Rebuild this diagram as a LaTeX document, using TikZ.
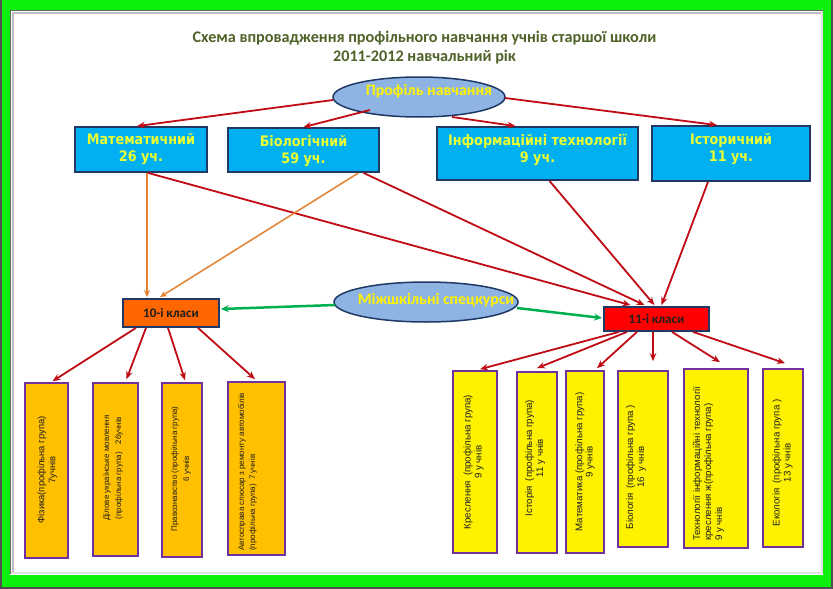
\documentclass[tikz,border=0pt]{standalone}
\usepackage{fontspec}
\setmainfont{Carlito}
\newfontfamily\tah{DejaVu Sans}[FakeStretch=0.88]
\newfontfamily\ari{Liberation Sans}
\usetikzlibrary{arrows.meta,calc,shapes.geometric}
\definecolor{frgreen}{RGB}{12,240,12}
\definecolor{frgray}{RGB}{80,80,80}
\definecolor{titleol}{RGB}{79,98,40}
\definecolor{navy}{RGB}{31,56,100}
\definecolor{cyanbox}{RGB}{0,176,240}
\definecolor{ellblue}{RGB}{142,180,227}
\definecolor{ytext}{RGB}{235,255,50}
\definecolor{darkred}{RGB}{192,10,20}
\definecolor{orline}{RGB}{228,130,50}
\definecolor{grline}{RGB}{0,176,80}
\definecolor{orfill}{RGB}{255,192,0}
\definecolor{purp}{RGB}{112,48,160}
\definecolor{cls10}{RGB}{255,102,0}
\definecolor{txtdark}{RGB}{30,30,30}
\begin{document}
\begin{tikzpicture}[x=1pt,y=-1pt,
  bluebox/.style={draw=navy,line width=1.8pt,fill=cyanbox,inner sep=0pt},
  btext/.style={text=ytext,align=center,font=\tah\bfseries\fontsize{14.5}{17}\selectfont,inner sep=0pt},
  ell/.style={ellipse,draw=navy,line width=1.5pt,fill=ellblue,inner sep=0pt},
  etext/.style={text=yellow,font=\bfseries\fontsize{15.8}{17}\selectfont,inner sep=0pt},
  clsbox/.style={draw=navy,line width=1.8pt,inner sep=0pt,text=txtdark,font=\bfseries\fontsize{13}{14}\selectfont},
  obox/.style={draw=purp,line width=1.6pt,fill=orfill,inner sep=0pt},
  ybox/.style={draw=purp,line width=1.6pt,fill=yellow,inner sep=0pt},
  rtext/.style={rotate=90,align=center,inner sep=0pt,text=txtdark,font=\ari\fontsize{9.7}{11}\selectfont},
  redarr/.style={draw=darkred,line width=1.8pt,-{Stealth[length=8pt,width=6.5pt]}},
  orarr/.style={draw=orline,line width=1.5pt,-{Stealth[length=7pt,width=6pt]}},
  grarr/.style={draw=grline,line width=2.5pt,-{Stealth[length=8pt,width=7pt]}}
]
\useasboundingbox (0,0) rectangle (833,589);
% frame
\fill[frgray] (0,0) rectangle (833,589);
\fill[frgreen] (1.5,0) rectangle (830.5,586.5);
\fill[white] (10,10) rectangle (823,574.5);
\draw[black!25,line width=2pt] (13,574) -- (13,13) -- (822,13);
\draw[black!60,line width=1.2pt] (10.6,574) -- (10.6,10.6) -- (823,10.6);
\draw[black!12,line width=2pt] (11,572.5) -- (821.5,572.5) -- (821.5,11);

% title
\node[text=titleol,align=center,font=\bfseries\fontsize{16.2}{19}\selectfont,inner sep=0pt] (title) at (424.5,47.5)
  {Схема впровадження профільного навчання учнів старшої школи\\2011-2012 навчальний рік};

% profile ellipse
\node[ell,minimum width=172pt,minimum height=40pt] (prof) at (419,97) {};
\node[etext] (proft) at (429,91) {Профіль навчання};

% blue boxes
\node[bluebox,minimum width=132pt,minimum height=45pt] (mat) at (141,149.5) {};
\node[btext] (matt) at (141,149.5) {Математичний\\26 уч.};
\node[bluebox,minimum width=151pt,minimum height=44pt] (bio) at (303.5,150) {};
\node[btext] (biot) at (303.5,151) {Біологічний\\59 уч.};
\node[bluebox,minimum width=201pt,minimum height=53pt] (inf) at (537.5,153.5) {};
\node[btext] (inft) at (537.5,150) {Інформаційні технології\\9 уч.};
\node[bluebox,minimum width=158pt,minimum height=55pt] (ist) at (731,153.5) {};
\node[btext] (istt) at (731,149) {Історичний\\11 уч.};

% class boxes
\node[clsbox,fill=cls10,minimum width=96pt,minimum height=28pt] (k10) at (171,313) {10-і класи};
\node[clsbox,fill=red,minimum width=105pt,minimum height=24pt] (k11) at (656.5,319) {11-і класи};

% inter-school ellipse
\node[ell,minimum width=184pt,minimum height=40pt] (mizh) at (426,302) {};
\node[etext] (mizht) at (436,300) {Міжшкільні спецкурси};

% orange boxes
\node[obox,minimum width=43pt,minimum height=175pt] (ob1) at (46.5,470.5) {};
\node[obox,minimum width=45pt,minimum height=173pt] (ob2) at (115.5,469.5) {};
\node[obox,minimum width=40pt,minimum height=174pt] (ob3) at (182,470) {};
\node[obox,minimum width=57pt,minimum height=173pt] (ob4) at (256.5,468.5) {};
\node[rtext,font=\ari\fontsize{9.4}{11}\selectfont] (ob1t) at (47.5,470) {Фізика(профільна група)\\7учнів};
\node[rtext,font=\ari\fontsize{8}{12}\selectfont] (ob2t) at (113,468) {Ділове українське мовлення\\(профільна група)\quad 26учнів};
\node[rtext,font=\ari\fontsize{8}{12}\selectfont] (ob3t) at (181,469) {Правознавство (профільна група)\hspace{42pt}\\6 учнів};
\node[rtext,align=left,anchor=west,font=\ari\fontsize{8}{11}\selectfont] (ob4t) at (247.5,551) {Автосправа слюсар з ремонту автомобілів\\(профільна група)\enspace 7 учнів};

% yellow boxes
\node[ybox,minimum width=44pt,minimum height=182pt] (yb1) at (475,462) {};
\node[ybox,minimum width=40pt,minimum height=181pt] (yb2) at (537,462.5) {};
\node[ybox,minimum width=38pt,minimum height=182pt] (yb3) at (585,462) {};
\node[ybox,minimum width=50pt,minimum height=176pt] (yb4) at (643,459) {};
\node[ybox,minimum width=64pt,minimum height=179pt] (yb5) at (716,458.5) {};
\node[ybox,minimum width=40pt,minimum height=178pt] (yb6) at (783,458) {};
\node[rtext] (yb1t) at (473.5,462) {Креслення\enspace(профільна група)\\9 у чнів};
\node[rtext] (yb2t) at (535,458) {Історія\enspace(профільна група)\\11 у чнів};
\node[rtext,font=\ari\fontsize{9.7}{9}\selectfont] (yb3t) at (585,462) {Математика (профільна група)\\9 учнів};
\node[rtext] (yb4t) at (636,467) {Біологія\enspace(профільна група )\\16\enspace у чнів};
\node[rtext,align=left,anchor=west] (yb5t) at (708.5,541) {Технології інформаційні технології\\креслення ж(профільна група)\\9 у чнів};
\node[rtext] (yb6t) at (782.5,463) {Екологія\enspace(профільна група )\\13 у чнів};

% arrows from profile ellipse
\draw[redarr] ($(prof.center)+(-86,3)$) -- ($(mat.north)+(-4,0)$);
\draw[redarr] ($(prof.center)+(-49,13)$) -- ($(bio.north)+(0,0)$);
\draw[redarr] ($(prof.center)+(33,20)$) -- ($(inf.north)+(-22,0)$);
\draw[redarr] ($(prof.center)+(86,1)$) -- ($(ist.north)+(-14,0)$);

% red lines to 11
\draw[redarr] ($(mat.south)+(7,0)$) -- ($(k11.north)+(-26,-1)$);
\draw[redarr] ($(bio.south)+(60,0)$) -- ($(k11.north)+(-12,-1)$);
\draw[redarr] ($(inf.south)+(12,0)$) -- ($(k11.north)+(-2,-1)$);
\draw[redarr] ($(ist.south)+(-23,0)$) -- ($(k11.north)+(5,-1)$);

% orange lines to 10
\draw[orarr] ($(mat.south)+(6,0)$) -- ($(k10.north)+(-24,-1)$);
\draw[orarr] ($(bio.south)+(55,0)$) -- ($(k10.north)+(-11,-1)$);

% green arrows
\draw[grarr] ($(mizh.center)+(-91,3)$) -- ($(k10.east)+(1,-4)$);
\draw[grarr] ($(mizh.center)+(91,6)$) -- ($(k11.west)+(-1,-1)$);

% from 10
\draw[redarr] ($(k10.south)+(-35,0)$) -- ($(ob1.north)+(6,-1)$);
\draw[redarr] ($(k10.south)+(-25,0)$) -- ($(ob2.north)+(11,-3)$);
\draw[redarr] ($(k10.south)+(-3,0)$) -- ($(ob3.north)+(3,-2)$);
\draw[redarr] ($(k10.south)+(27,0)$) -- ($(ob4.north)+(-1.5,-2)$);

% from 11
\draw[redarr] ($(k11.south)+(-37.5,0)$) -- ($(yb1.north)+(5,-1)$);
\draw[redarr] ($(k11.south)+(-29.5,0)$) -- ($(yb2.north)+(0,-3)$);
\draw[redarr] ($(k11.south)+(-19.5,0)$) -- ($(yb3.north)+(12,-2)$);
\draw[redarr] ($(k11.south)+(-3.5,0)$) -- ($(yb4.north)+(10,-9)$);
\draw[redarr] ($(k11.south)+(15.5,0)$) -- ($(yb5.north)+(4,-6)$);
\draw[redarr] ($(k11.south)+(36.5,0)$) -- ($(yb6.north)+(2,-5)$);
\end{tikzpicture}
\end{document}
